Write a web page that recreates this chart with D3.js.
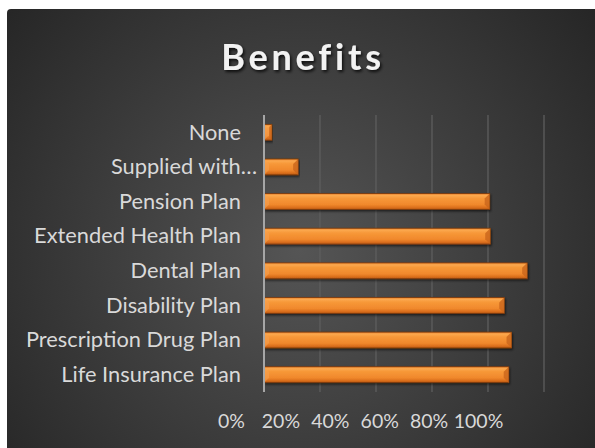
<!DOCTYPE html>
<html><head><meta charset="utf-8">
<script src="https://cdn.jsdelivr.net/npm/d3@7"></script>
<style>html,body{margin:0;padding:0;background:#fff;overflow:hidden}</style>
</head><body>
<svg id="chart" width="595" height="448"></svg>
<script>
const categories = ["None","Supplied with…","Pension Plan","Extended Health Plan","Dental Plan","Disability Plan","Prescription Drug Plan","Life Insurance Plan"];
const values = [0.028, 0.122, 0.806, 0.808, 0.94, 0.858, 0.884, 0.874];
const tickValues = [0, 0.2, 0.4, 0.6, 0.8, 1.0];
const tickLabels = ["0%","20%","40%","60%","80%","100%"];
const title = "Benefits";

const svg = d3.select("#chart");
const defs = svg.append("defs");
const rg = defs.append("radialGradient").attr("id","bg").attr("gradientUnits","userSpaceOnUse")
  .attr("cx",300).attr("cy",250).attr("r",380);
rg.append("stop").attr("offset","0").attr("stop-color","#555555");
rg.append("stop").attr("offset","1").attr("stop-color","#262626");

const lg = defs.append("linearGradient").attr("id","bar").attr("x1",0).attr("y1",0).attr("x2",0).attr("y2",1);
[[0,"#e9802a"],[0.12,"#fba84e"],[0.3,"#f79838"],[0.7,"#f0882c"],[0.88,"#da6e1c"],[1,"#b45714"]]
  .forEach(([o,c])=>lg.append("stop").attr("offset",o).attr("stop-color",c));

const sh = defs.append("filter").attr("id","tsh").attr("x","-20%").attr("y","-20%").attr("width","140%").attr("height","160%");
sh.append("feDropShadow").attr("dx",1.5).attr("dy",2).attr("stdDeviation",1.5).attr("flood-color","#000").attr("flood-opacity",0.8);
const bsh = defs.append("filter").attr("id","bsh").attr("x","-5%").attr("y","-20%").attr("width","110%").attr("height","160%");
bsh.append("feDropShadow").attr("dx",1).attr("dy",1.5).attr("stdDeviation",1).attr("flood-color","#000").attr("flood-opacity",0.6);

svg.append("rect").attr("x",7).attr("y",9).attr("width",600).attr("height",450).attr("rx",4).attr("fill","url(#bg)");

svg.append("text").attr("x",303).attr("y",70).attr("text-anchor","middle")
  .attr("font-family","Lato, 'Open Sans', sans-serif").attr("font-weight","bold").attr("font-size",36)
  .attr("letter-spacing",3.8).attr("fill","#f2f2f2").attr("filter","url(#tsh)").text(title);

const x = d3.scaleLinear().domain([0,1]).range([264,544]);
const xl = d3.scaleLinear().domain([0,1]).range([231,478]);
const y = d3.scaleBand().domain(categories).range([115,392]).paddingInner(0.54).paddingOuter(0.27);

// gridlines
svg.append("g").selectAll("line").data(tickValues.slice(1)).join("line")
  .attr("x1",d=>x(d)).attr("x2",d=>x(d)).attr("y1",115).attr("y2",392)
  .attr("stroke","#5e5e5e").attr("stroke-width",1.3);

// bars
const bars = svg.append("g").selectAll("g").data(categories).join("g");
bars.append("rect").attr("x",x(0)).attr("y",d=>y(d)).attr("width",(d,i)=>x(values[i])-x(0)).attr("height",y.bandwidth())
  .attr("fill","url(#bar)").attr("stroke","#7a3a0c").attr("stroke-width",0.8).attr("filter","url(#bsh)");
bars.append("path").attr("d",(d,i)=>{const x1=x(values[i]),y0=y(d),h=y.bandwidth(),b=Math.min(5,(x1-x(0))/3);
  return `M${x1},${y0}L${x1-b},${y0+b}L${x1-b},${y0+h-b}L${x1},${y0+h}Z`;}).attr("fill","#c9651c").attr("opacity",0.8);
bars.append("path").attr("d",(d,i)=>{const x0=x(0),y0=y(d),h=y.bandwidth(),b=5;
  return `M${x0},${y0}L${x0+b},${y0+b}L${x0+b},${y0+h-b}L${x0},${y0+h}Z`;}).attr("fill","#f5a050").attr("opacity",0.6);

// axis line
svg.append("line").attr("x1",x(0)).attr("x2",x(0)).attr("y1",115).attr("y2",392).attr("stroke","#a6a6a6").attr("stroke-width",2);

// category labels
const yAxis = d3.axisLeft(y).tickSize(0).tickPadding(0);
const ya = svg.append("g").attr("transform","translate(241,0)").call(yAxis);
ya.select(".domain").remove();
ya.selectAll("text").attr("font-family","Lato, 'Open Sans', sans-serif").attr("font-size",21.8).attr("fill","#d9d9d9").attr("dy","0.33em")
  .attr("dx",d=>d.endsWith("…")?16:0);

// value labels
const xAxis = d3.axisBottom(xl).tickValues(tickValues).tickFormat((d,i)=>tickLabels[i]).tickSize(0).tickPadding(0);
const xa = svg.append("g").attr("transform","translate(0,422)").call(xAxis);
xa.select(".domain").remove();
xa.selectAll("text").attr("font-family","Lato, 'Open Sans', sans-serif").attr("font-size",19.5).attr("fill","#d9d9d9").attr("dy","0.33em");
</script>
</body></html>
